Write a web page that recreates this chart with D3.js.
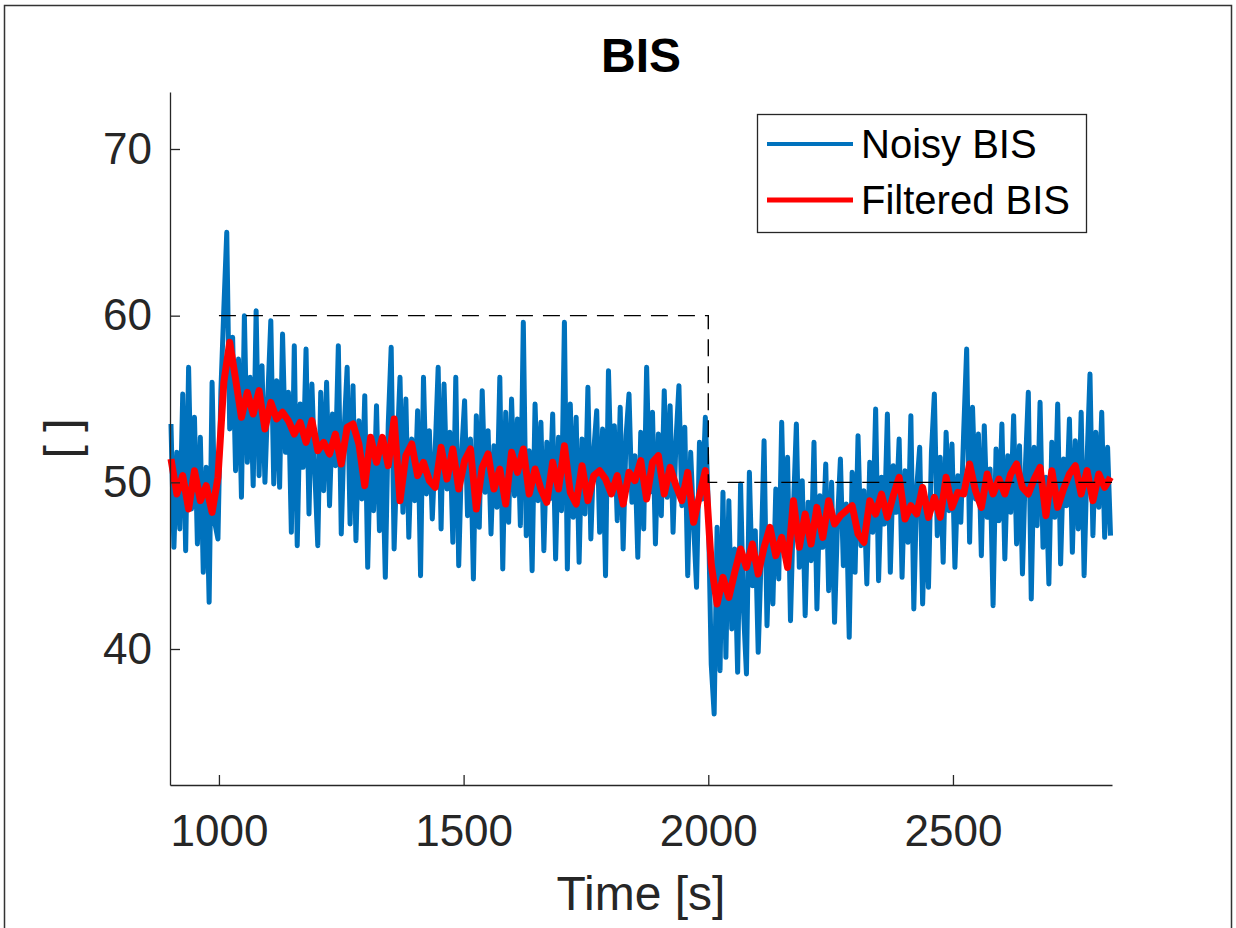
<!DOCTYPE html>
<html>
<head>
<meta charset="utf-8">
<script src="https://cdn.jsdelivr.net/npm/d3@7"></script>
<style>
    body { margin: 0; background: #fff; }
    svg { display: block; font-family: "Liberation Sans", Arial, sans-serif; }
</style>
</head>
<body>
<div id="chart"></div>
<script>
// time grid of the two signals (s)
const noisyStart = 902, noisyStep = 6;
const filteredStart = 902, filteredStep = 12;

// noisy BIS, one row per minute
const noisyBIS = [
    53.5, 46.1, 51.8, 47.2, 55.3, 45.9, 56.9, 48.4, 53.9, 46.3,
    52.7, 44.6, 50.9, 42.8, 56.0, 47.5, 46.6, 55.5, 60.4, 65.0,
    53.2, 58.7, 50.7, 57.4, 49.1, 60.0, 51.2, 56.3, 49.8, 60.3,
    50.4, 57.0, 50.0, 55.2, 59.7, 49.9, 56.1, 49.7, 58.9, 51.8,
    55.4, 47.0, 58.2, 46.2, 54.7, 50.9, 58.0, 48.1, 55.9, 50.6,
    46.2, 55.4, 49.5, 56.0, 48.6, 54.1, 51.0, 58.2, 46.9, 53.2,
    56.9, 47.5, 55.8, 46.5, 53.7, 49.0, 55.2, 44.9, 52.4, 48.3,
    54.6, 47.1, 52.0, 44.3, 53.5, 58.1, 46.0, 51.8, 56.3, 48.2,
    55.0, 46.7, 52.6, 48.9, 54.3, 44.4, 56.3, 49.3, 53.1, 47.8,
    52.0, 56.9, 47.2, 55.9, 49.6, 53.0, 46.4, 56.3, 45.0, 51.7,
    54.9, 48.0, 52.6, 44.2, 54.0, 47.3, 55.5, 49.4, 53.1, 46.9,
    52.2, 48.5, 56.3, 44.8, 54.2, 47.6, 55.0, 49.2, 53.8, 47.4,
    59.6, 46.8, 51.9, 44.7, 54.7, 48.9, 53.6, 45.9, 52.4, 49.0,
    54.1, 45.4, 52.7, 48.3, 59.6, 44.8, 54.7, 47.9, 53.9, 45.2,
    52.6, 48.1, 55.7, 46.6, 51.9, 54.3, 47.0, 53.2, 44.4, 56.7,
    49.8, 53.4, 47.7, 54.5, 46.0, 52.8, 55.3, 48.8, 51.6, 45.5,
    53.0, 47.2, 56.9, 49.4, 54.2, 46.3, 52.9, 48.0, 55.5, 49.1,
    54.6, 47.0, 52.5, 55.8, 48.6, 53.3, 44.4, 51.8, 47.5, 43.7,
    52.4, 49.0, 53.9, 48.5, 39.1, 36.1, 47.3, 38.7, 49.4, 39.5,
    48.9, 41.2, 46.0, 38.6, 49.9, 42.3, 38.5, 50.6, 43.8, 47.1,
    39.8, 45.5, 52.5, 41.4, 47.3, 42.7, 49.6, 44.2, 53.6, 46.0,
    51.5, 41.7, 48.4, 53.5, 44.9, 50.1, 42.0, 48.8, 45.3, 52.4,
    42.4, 49.2, 46.1, 51.1, 43.5, 50.0, 41.6, 47.6, 51.4, 45.0,
    48.7, 40.7, 50.6, 44.6, 52.8, 46.2, 49.5, 43.9, 51.2, 47.0,
    54.4, 44.1, 50.3, 47.5, 54.1, 44.6, 51.0, 48.2, 52.6, 44.3,
    50.7, 46.4, 54.0, 42.4, 49.7, 52.1, 42.7, 48.9, 43.7, 51.8,
    55.3, 46.8, 51.5, 45.2, 53.0, 48.3, 52.3, 44.9, 50.4, 47.6,
    53.1, 58.0, 46.4, 54.5, 49.0, 52.9, 45.6, 53.4, 47.9, 50.8,
    42.6, 52.0, 47.7, 53.5, 45.4, 51.6, 48.2, 54.0, 46.3, 52.2,
    44.5, 50.9, 55.4, 43.0, 52.1, 47.4, 54.8, 46.1, 50.3, 43.9,
    52.4, 47.9, 54.7, 45.1, 51.4, 48.6, 53.8, 45.8, 52.5, 47.2,
    54.2, 44.4, 51.3, 56.5, 46.8, 53.0, 48.5, 54.2, 46.7, 52.1,
    46.8
];

// filtered BIS
const filteredBIS = [
    51.4, 49.3, 50.4, 48.4, 50.7, 48.9, 49.8, 48.2, 50.3,
    56.0, 58.4, 56.2, 53.9, 55.4, 54.1, 55.5, 53.2,
    54.8, 53.8, 54.2, 53.7, 52.9, 53.6, 52.4, 53.7,
    51.9, 52.4, 51.7, 52.9, 51.1, 53.3, 53.5, 52.3, 49.8,
    52.7, 51.2, 52.7, 51.0, 53.8, 48.9, 51.6, 52.3,
    50.4, 51.2, 50.1, 49.7, 52.1, 50.2, 52.0, 49.6,
    51.3, 52.0, 48.4, 50.9, 51.7, 49.6, 50.8, 48.7, 51.8,
    50.6, 52.0, 49.3, 50.8, 49.6, 48.8, 51.2, 49.6,
    52.2, 49.4, 48.7, 51.0, 48.9, 50.4, 50.7, 50.2,
    49.3, 50.4, 48.7, 50.6, 50.1, 51.3, 49.0, 51.2, 51.6,
    49.3, 50.9, 49.8, 48.9, 50.6, 47.6, 49.2, 50.7,
    45.1, 42.7, 44.3, 43.1, 44.6, 46.0, 44.9, 46.3,
    44.5, 46.1, 47.3, 45.6, 46.7, 44.9, 48.9, 46.1, 48.1,
    46.3, 48.5, 46.7, 48.9, 47.5, 48.0, 48.3, 48.6,
    46.9, 46.4, 48.9, 48.1, 49.3, 47.9, 49.2, 50.3,
    47.8, 48.6, 48.1, 49.7, 47.9, 49.1, 47.9, 50.3, 48.5,
    49.4, 49.3, 51.1, 49.5, 48.5, 50.5, 49.3, 50.2,
    49.3, 50.5, 51.1, 49.7, 49.3, 50.2, 50.9, 48.0,
    50.7, 48.5, 49.6, 50.5, 51.0, 49.3, 50.7, 48.9, 50.5,
    49.7, 50.3
];

// target (dashed)
const refTimes = [1000, 2000, 2000, 2825];
const refValues = [60, 60, 50, 50];

const xTicks = [1000, 1500, 2000, 2500];
const yTicks = [40, 50, 60, 70];
const legendLabels = ['Noisy BIS', 'Filtered BIS'];
const seriesColors = ['#0072BD', '#FF0000'];

const width = 1236, height = 928;
const margin = { left: 170, right: 124, top: 92, bottom: 143 };
const axisColor = '#262626';

const svg = d3.select('#chart').append('svg')
    .attr('width', width)
    .attr('height', height);

svg.append('rect')
    .attr('width', width).attr('height', height)
    .attr('fill', '#fff');

// figure frame
svg.append('path')
    .attr('d', `M4.5,${height} V5.5 H1231.5 V${height}`)
    .attr('fill', 'none')
    .attr('stroke', '#333')
    .attr('stroke-width', 1.5);

const x = d3.scaleLinear().domain([900, 2825]).range([margin.left, width - margin.right]);
const y = d3.scaleLinear().domain([31.84, 73.42]).range([height - margin.bottom, margin.top]);

const noisyPts = noisyBIS.map((v, i) => [noisyStart + i * noisyStep, v]);
const filteredPts = filteredBIS.map((v, i) => [filteredStart + i * filteredStep, v]);
const refPts = refTimes.map((t, i) => [t, refValues[i]]);

const line = d3.line().x(d => x(d[0])).y(d => y(d[1]));

const plot = svg.append('g');

plot.append('path')
    .attr('d', line(noisyPts))
    .attr('fill', 'none')
    .attr('stroke', seriesColors[0])
    .attr('stroke-width', 5)
    .attr('stroke-linejoin', 'round');

plot.append('path')
    .attr('d', line(filteredPts))
    .attr('fill', 'none')
    .attr('stroke', seriesColors[1])
    .attr('stroke-width', 7)
    .attr('stroke-linejoin', 'round');

plot.append('path')
    .attr('d', line(refPts))
    .attr('fill', 'none')
    .attr('stroke', '#000')
    .attr('stroke-width', 1.4)
    .attr('stroke-dasharray', '17,10');

// axes with inward ticks
const xAxis = svg.append('g')
    .attr('transform', `translate(0,${height - margin.bottom})`)
    .call(d3.axisBottom(x).tickValues(xTicks).tickFormat(d3.format('d'))
        .tickSizeInner(-10).tickSizeOuter(0).tickPadding(30));

const yAxis = svg.append('g')
    .attr('transform', `translate(${margin.left},0)`)
    .call(d3.axisLeft(y).tickValues(yTicks).tickFormat(d3.format('d'))
        .tickSizeInner(-10).tickSizeOuter(0).tickPadding(18));

[xAxis, yAxis].forEach(g => {
    g.select('.domain').attr('stroke', axisColor).attr('stroke-width', 1.3);
    g.selectAll('.tick line').attr('stroke', axisColor).attr('stroke-width', 1.3);
    g.selectAll('.tick text')
        .attr('fill', axisColor)
        .style('font-size', '44px')
        .style('font-family', '"Liberation Sans", Arial, sans-serif');
});

// title and labels
svg.append('text')
    .attr('x', (margin.left + width - margin.right) / 2)
    .attr('y', 72)
    .attr('text-anchor', 'middle')
    .style('font-size', '48px')
    .style('font-weight', 'bold')
    .attr('fill', '#000')
    .text('BIS');

svg.append('text')
    .attr('x', (margin.left + width - margin.right) / 2)
    .attr('y', 910)
    .attr('text-anchor', 'middle')
    .style('font-size', '48px')
    .attr('fill', axisColor)
    .text('Time [s]');

svg.append('text')
    .attr('transform', `translate(78,${(margin.top + height - margin.bottom) / 2}) rotate(-90)`)
    .attr('text-anchor', 'middle')
    .style('font-size', '48px')
    .attr('fill', axisColor)
    .text('[ ]');

// legend
const legend = svg.append('g').attr('transform', 'translate(757,114)');
legend.append('rect')
    .attr('x', 0.5).attr('y', 0.5)
    .attr('width', 329).attr('height', 118)
    .attr('fill', '#fff')
    .attr('stroke', axisColor)
    .attr('stroke-width', 1.3);

legendLabels.forEach((label, i) => {
    const ly = 30 + i * 56;
    legend.append('line')
        .attr('x1', 10).attr('x2', 96)
        .attr('y1', ly).attr('y2', ly)
        .attr('stroke', seriesColors[i])
        .attr('stroke-width', i === 0 ? 4 : 5);
    legend.append('text')
        .attr('x', 104).attr('y', ly)
        .attr('dy', '0.35em')
        .style('font-size', '40px')
        .attr('fill', '#000')
        .text(label);
});
</script>
</body>
</html>
